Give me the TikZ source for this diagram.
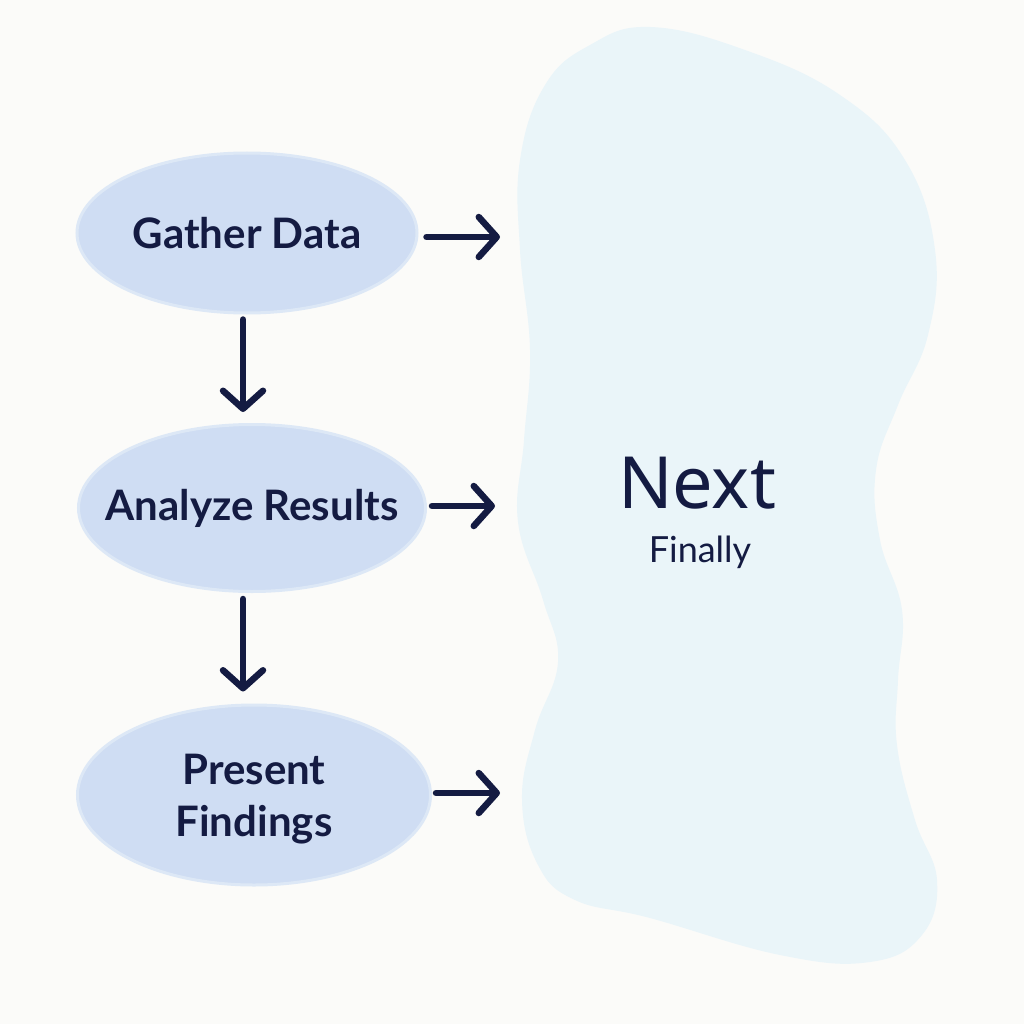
\documentclass[tikz,border=0pt]{standalone}
\usepackage{fontspec}
\setmainfont{Lato}
\newfontfamily\handfont{Noto Sans}
\usetikzlibrary{shapes.geometric,arrows.meta}
\definecolor{bgc}{HTML}{FBFBF9}
\definecolor{blobc}{HTML}{EAF5F9}
\definecolor{ellfill}{HTML}{CFDDF3}
\definecolor{elledge}{HTML}{DDE8F6}
\definecolor{navy}{HTML}{141B42}
\tikzset{
  stepell/.style={ellipse, draw=elledge, line width=3pt, fill=ellfill, inner xsep=-40pt, inner ysep=0pt,
    text=navy, font=\fontsize{42}{52}\selectfont\bfseries, align=center},
  arr/.style={draw=navy, line width=6.5pt, line cap=round,
    -{Straight Barb[length=18pt,width=40pt,line width=6.5pt,round]}}
}
\begin{document}
\begin{tikzpicture}[x=1pt,y=-1pt]
\useasboundingbox (0,0) rectangle (1024,1024);
\fill[bgc] (0,0) rectangle (1024,1024);
% blob
\fill[blobc] plot[smooth cycle, tension=0.7] coordinates {
  (650,27) (745,50) (840,95) (905,160) (935,250) (928,335) (898,405) (876,470)
  (880,540) (902,610) (898,680) (897,745) (915,820) (937,880) (922,935) (870,962)
  (780,955) (650,918) (575,900) (538,865) (522,800) (535,730) (558,662) (543,600)
  (518,522) (524,440) (530,350) (520,250) (520,160) (545,85) (590,45)};
\node[text=navy, font=\handfont\fontsize{72}{80}\selectfont] (next) at (697,483) {Next};
\node[text=navy, font=\fontsize{36}{42}\selectfont] (fin) at (700,552) {Finally};

\node[stepell, minimum width=340pt, minimum height=160pt] (g) at (247,233) {\raisebox{-5pt}{Gather Data}};
\node[stepell, minimum width=347pt, minimum height=167pt] (a) at (252,508) {Analyze Results};
\node[stepell, minimum width=353pt, minimum height=180pt, text depth=0pt] (p) at (254,795) {Present\\[0pt]Findings};

\coordinate (t1) at (500,237);
\coordinate (t2) at (495,506);
\coordinate (t3) at (500,793);
\draw[arr] ([shift={(8pt,-4pt)}]g.east) -- (t1);
\draw[arr] ([shift={(5pt,2pt)}]a.east) -- (t2);
\draw[arr] ([shift={(4pt,2pt)}]p.east) -- (t3);
\draw[arr] ([shift={(-4pt,-5pt)}]g.south) -- ([shift={(-9pt,11pt)}]a.north);
\draw[arr] ([shift={(-9pt,-6pt)}]a.south) -- ([shift={(-11pt,12pt)}]p.north);
\end{tikzpicture}
\end{document}
